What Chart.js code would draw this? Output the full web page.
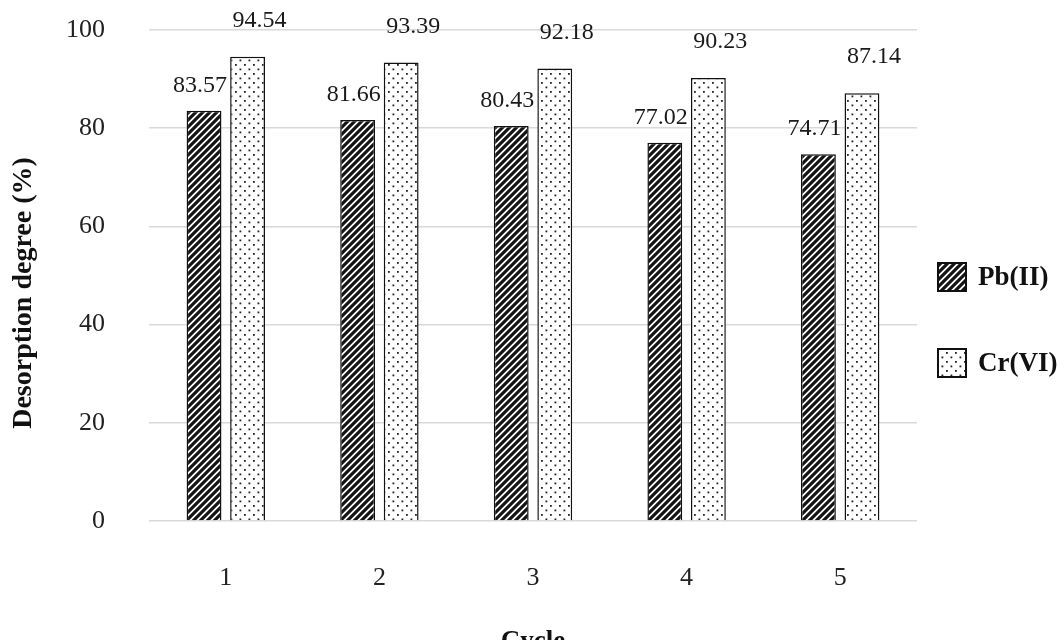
<!DOCTYPE html>
<html>
<head>
<meta charset="utf-8">
<script src="https://cdn.jsdelivr.net/npm/chart.js@4/dist/chart.umd.min.js"></script>
<style>
  html, body { margin: 0; padding: 0; background: #fff; }
  #wrap { width: 1064px; height: 640px; position: relative; }
</style>
</head>
<body>
<div id="wrap"><canvas id="c" width="1064" height="640"></canvas></div>
<script>
// Desorption degree per regeneration cycle
const cycles = ['1', '2', '3', '4', '5'];
const pbValues = [83.57, 81.66, 80.43, 77.02, 74.71];
const crValues = [94.54, 93.39, 92.18, 90.23, 87.14];
const seriesNames = ['Pb(II)', 'Cr(VI)'];
const yTicks = [0, 20, 40, 60, 80, 100];
const xTitle = 'Cycle';
const yTitle = 'Desorption degree (%)';

const SERIF = '"Liberation Serif", "Times New Roman", serif';

// Diagonal hatch fill
function hatchPattern() {
  const s = 7;
  const cv = document.createElement('canvas');
  cv.width = s; cv.height = s;
  const g = cv.getContext('2d');
  g.fillStyle = '#fff';
  g.fillRect(0, 0, s, s);
  g.strokeStyle = '#141414';
  g.lineWidth = 3.2;
  g.beginPath();
  g.moveTo(-1, s + 1); g.lineTo(s + 1, -1);
  g.moveTo(-s / 2 - 1, s / 2 + 1); g.lineTo(s / 2 + 1, -s / 2 - 1);
  g.moveTo(s / 2 - 1, s * 1.5 + 1); g.lineTo(s * 1.5 + 1, s / 2 - 1);
  g.stroke();
  return g.createPattern(cv, 'repeat');
}

// Staggered dot fill
function dotPattern() {
  const s = 9;
  const cv = document.createElement('canvas');
  cv.width = s; cv.height = s;
  const g = cv.getContext('2d');
  g.fillStyle = '#fff';
  g.fillRect(0, 0, s, s);
  g.fillStyle = '#222';
  g.fillRect(1, 1, 1.8, 1.8);
  g.fillRect(5.5, 5.5, 1.8, 1.8);
  return g.createPattern(cv, 'repeat');
}

// Value labels above each bar
const valueLabels = {
  id: 'valueLabels',
  afterDatasetsDraw(chart) {
    const ctx = chart.ctx;
    const offsets = [{ dx: -4, dy: 25 }, { dx: 12, dy: 36 }];
    ctx.save();
    ctx.font = '24px ' + SERIF;
    ctx.fillStyle = '#1a1a1a';
    ctx.textAlign = 'center';
    ctx.textBaseline = 'middle';
    chart.data.datasets.forEach((ds, di) => {
      const meta = chart.getDatasetMeta(di);
      meta.data.forEach((bar, i) => {
        ctx.fillText(ds.data[i].toFixed(2), bar.x + offsets[di].dx, bar.y - offsets[di].dy);
      });
    });
    ctx.restore();
  }
};

// Vertical axis caption, set a little below the plot's middle
const yCaption = {
  id: 'yCaption',
  afterDraw(chart) {
    const ctx = chart.ctx;
    ctx.save();
    ctx.translate(23.5, 293);
    ctx.rotate(-Math.PI / 2);
    ctx.font = 'bold 28px ' + SERIF;
    ctx.fillStyle = '#111';
    ctx.textAlign = 'center';
    ctx.textBaseline = 'middle';
    ctx.fillText(yTitle, 0, 0);
    ctx.restore();
  }
};

// Series key on the right, stacked vertically
const sideLegend = {
  id: 'sideLegend',
  afterDraw(chart) {
    const ctx = chart.ctx;
    const boxX = 938, box = 28, textX = 978;
    const rowY = [277, 363];
    ctx.save();
    ctx.font = 'bold 27px ' + SERIF;
    ctx.textAlign = 'left';
    ctx.textBaseline = 'middle';
    chart.data.datasets.forEach((ds, di) => {
      const cy = rowY[di];
      ctx.fillStyle = ds.backgroundColor;
      ctx.fillRect(boxX, cy - box / 2, box, box);
      ctx.lineWidth = 2;
      ctx.strokeStyle = '#111';
      ctx.strokeRect(boxX, cy - box / 2, box, box);
      ctx.fillStyle = '#111';
      ctx.fillText(ds.label, textX, cy + 1);
    });
    ctx.restore();
  }
};

new Chart(document.getElementById('c'), {
  type: 'bar',
  data: {
    labels: cycles,
    datasets: [
      {
        label: seriesNames[0],
        data: pbValues,
        backgroundColor: hatchPattern(),
        borderColor: '#111',
        borderWidth: 1.5,
        categoryPercentage: 0.567,
        barPercentage: 0.8
      },
      {
        label: seriesNames[1],
        data: crValues,
        backgroundColor: dotPattern(),
        borderColor: '#111',
        borderWidth: 1.5,
        categoryPercentage: 0.567,
        barPercentage: 0.8
      }
    ]
  },
  options: {
    responsive: false,
    animation: false,
    devicePixelRatio: 1,
    layout: { padding: { top: 30, right: 147, bottom: 0, left: 0 } },
    plugins: {
      legend: { display: false },
      tooltip: { enabled: false }
    },
    scales: {
      x: {
        afterFit(scale) {
          scale.height = 119;
          scale.paddingLeft = 0;
          scale.paddingRight = 0;
        },
        grid: { display: false },
        border: { display: false },
        ticks: {
          font: { family: SERIF, size: 26 },
          color: '#222',
          padding: 34
        },
        title: {
          display: true,
          text: xTitle,
          font: { family: SERIF, size: 27, weight: 'bold', lineHeight: 1 },
          color: '#111',
          padding: { top: 0, bottom: -16 }
        }
      },
      y: {
        min: 0,
        max: 100,
        afterFit(scale) {
          scale.width = 149;
          scale.paddingTop = 0;
          scale.paddingBottom = 0;
        },
        afterBuildTicks(scale) {
          scale.ticks = yTicks.map(v => ({ value: v }));
        },
        grid: { color: '#d9d9d9', lineWidth: 1.5, drawTicks: false },
        border: { display: false },
        ticks: {
          font: { family: SERIF, size: 26 },
          color: '#222',
          padding: 44
        }
      }
    }
  },
  plugins: [valueLabels, yCaption, sideLegend]
});
</script>
</body>
</html>
